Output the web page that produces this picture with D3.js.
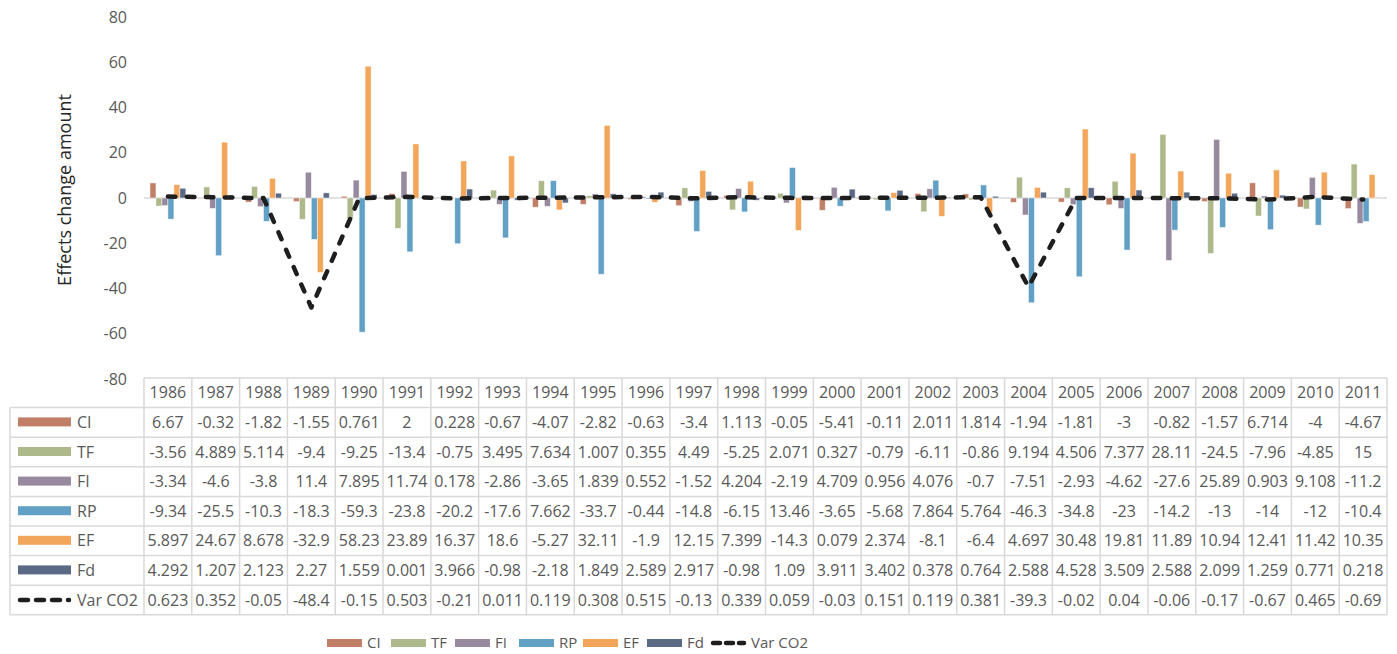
<!DOCTYPE html>
<meta charset="utf-8">
<head>
  <style>
    body { margin: 0; background: #fff; }
    svg { display: block; }
    .tick-lbl, .cell, .lbl { font-family: 'Open Sans', sans-serif; font-size: 16px; fill: #595959; }
    .ytitle { font-family: 'Open Sans', sans-serif; font-size: 18px; fill: #262626; }
    .grid { stroke: #d9d9d9; stroke-width: 1.5; fill: none; }
  </style>
</head>
<body>
<svg id="chart" width="1397" height="654"></svg>

<script src="https://d3js.org/d3.v7.min.js"></script>
<script>

  var years = [1986,1987,1988,1989,1990,1991,1992,1993,1994,1995,1996,1997,1998,1999,
               2000,2001,2002,2003,2004,2005,2006,2007,2008,2009,2010,2011];

  var CI = [6.67,-0.32,-1.82,-1.55,0.761,2,0.228,-0.67,-4.07,-2.82,-0.63,-3.4,1.113,-0.05,-5.41,-0.11,2.011,1.814,-1.94,-1.81,-3,-0.82,-1.57,6.714,-4,-4.67];
  var TF = [-3.56,4.889,5.114,-9.4,-9.25,-13.4,-0.75,3.495,7.634,1.007,0.355,4.49,-5.25,2.071,0.327,-0.79,-6.11,-0.86,9.194,4.506,7.377,28.11,-24.5,-7.96,-4.85,15];
  var FI = [-3.34,-4.6,-3.8,11.4,7.895,11.74,0.178,-2.86,-3.65,1.839,0.552,-1.52,4.204,-2.19,4.709,0.956,4.076,-0.7,-7.51,-2.93,-4.62,-27.6,25.89,0.903,9.108,-11.2];
  var RP = [-9.34,-25.5,-10.3,-18.3,-59.3,-23.8,-20.2,-17.6,7.662,-33.7,-0.44,-14.8,-6.15,13.46,-3.65,-5.68,7.864,5.764,-46.3,-34.8,-23,-14.2,-13,-14,-12,-10.4];
  var EF = [5.897,24.67,8.678,-32.9,58.23,23.89,16.37,18.6,-5.27,32.11,-1.9,12.15,7.399,-14.3,0.079,2.374,-8.1,-6.4,4.697,30.48,19.81,11.89,10.94,12.41,11.42,10.35];
  var Fd = [4.292,1.207,2.123,2.27,1.559,0.001,3.966,-0.98,-2.18,1.849,2.589,2.917,-0.98,1.09,3.911,3.402,0.378,0.764,2.588,4.528,3.509,2.588,2.099,1.259,0.771,0.218];
  var VarCO2 = [0.623,0.352,-0.05,-48.4,-0.15,0.503,-0.21,0.011,0.119,0.308,0.515,-0.13,0.339,0.059,-0.03,0.151,0.119,0.381,-39.3,-0.02,0.04,-0.06,-0.17,-0.67,0.465,-0.69];

  var barNames = ["CI","TF","FI","RP","EF","Fd"];
  var barData = [CI, TF, FI, RP, EF, Fd];
  var lineName = "Var CO2";
  var yTicks = [-80,-60,-40,-20,0,20,40,60,80];
  var yTitle = "Effects change amount";

  var colors = ["#c27f67","#adb88b","#978a9f","#62a0c6","#f2a65b","#5b6a84"];
  var lineColor = "#1e1e1e";

  var svg = d3.select("#chart");

  // layout
  var left = 144, right = 1387;
  var yTop = 17, yBot = 379;
  var tableTop = 378, rowH = 29.6, labelLeft = 10;

  var x = d3.scaleBand().domain(years).range([left, right])
            .paddingInner(0.25).paddingOuter(0.125);
  var xs = d3.scaleBand().domain(barNames).range([0, x.bandwidth()]);
  var y = d3.scaleLinear().domain([-80, 80]).range([yBot, yTop]);

  // y tick labels
  svg.append("g").selectAll("text").data(yTicks).join("text")
     .attr("class", "tick-lbl")
     .attr("x", 127).attr("y", d => y(d))
     .attr("dy", "0.35em")
     .attr("text-anchor", "end")
     .text(d => d);

  svg.append("text").attr("class", "ytitle")
     .attr("transform", "translate(71," + ((yTop + yBot) / 2 - 8) + ") rotate(-90)")
     .attr("text-anchor", "middle")
     .text(yTitle);

  // zero line
  svg.append("line").attr("class", "grid")
     .attr("x1", left).attr("x2", right)
     .attr("y1", y(0)).attr("y2", y(0));

  // bars
  var groups = svg.append("g").selectAll("g").data(years).join("g")
     .attr("transform", d => "translate(" + x(d) + ",0)");

  groups.selectAll("rect")
     .data((yr, i) => barNames.map((n, k) => ({name: n, k: k, v: barData[k][i]})))
     .join("rect")
     .attr("x", d => xs(d.name))
     .attr("width", xs.bandwidth())
     .attr("y", d => y(Math.max(0, d.v)))
     .attr("height", d => Math.abs(y(d.v) - y(0)))
     .attr("fill", d => colors[d.k])
     .attr("stroke", "rgba(255,255,255,0.6)")
     .attr("stroke-width", 0.75);

  // Var CO2 line
  var line = d3.line()
     .x((d, i) => x(years[i]) + x.bandwidth() / 2)
     .y(d => y(d));

  svg.append("path").datum(VarCO2)
     .attr("d", line)
     .attr("fill", "none")
     .attr("stroke", lineColor)
     .attr("stroke-width", 4.5)
     .attr("stroke-dasharray", "7.5,11.5")
     .attr("stroke-linecap", "round")
     .attr("stroke-linejoin", "round");

  // data table
  var colW = x.step();
  var tbl = svg.append("g");
  var rows = barNames.map((n, k) => ({name: n, vals: barData[k], k: k}));
  rows.push({name: lineName, vals: VarCO2, k: -1});
  var nRows = rows.length;

  // horizontal lines
  tbl.append("line").attr("class", "grid")
     .attr("x1", left).attr("x2", right).attr("y1", tableTop).attr("y2", tableTop);
  for (var r = 1; r <= nRows + 1; r++) {
    tbl.append("line").attr("class", "grid")
       .attr("x1", labelLeft).attr("x2", right)
       .attr("y1", tableTop + r * rowH).attr("y2", tableTop + r * rowH);
  }
  // vertical lines
  tbl.append("line").attr("class", "grid")
     .attr("x1", labelLeft).attr("x2", labelLeft)
     .attr("y1", tableTop + rowH).attr("y2", tableTop + (nRows + 1) * rowH);
  for (var c = 0; c <= years.length; c++) {
    tbl.append("line").attr("class", "grid")
       .attr("x1", left + c * colW).attr("x2", left + c * colW)
       .attr("y1", tableTop).attr("y2", tableTop + (nRows + 1) * rowH);
  }

  // header
  tbl.selectAll(".hdr").data(years).join("text")
     .attr("class", "cell hdr")
     .attr("x", d => x(d) + x.bandwidth() / 2)
     .attr("y", tableTop + rowH / 2).attr("dy", "0.35em")
     .attr("text-anchor", "middle")
     .text(d => d);

  rows.forEach(function (row, r) {
    var cy = tableTop + (r + 1.5) * rowH;
    var rg = tbl.append("g");
    if (row.k >= 0) {
      rg.append("rect").attr("x", 18).attr("y", cy - 5).attr("width", 53).attr("height", 9)
        .attr("fill", colors[row.k]);
    } else {
      rg.append("line").attr("x1", 20).attr("x2", 69).attr("y1", cy).attr("y2", cy)
        .attr("stroke", lineColor).attr("stroke-width", 4.5)
        .attr("stroke-dasharray", "8,8").attr("stroke-linecap", "round");
    }
    rg.append("text").attr("class", "lbl")
      .attr("x", 77).attr("y", cy).attr("dy", "0.35em")
      .text(row.name);
    rg.selectAll(".v").data(row.vals).join("text")
      .attr("class", "cell v")
      .attr("x", (d, i) => x(years[i]) + x.bandwidth() / 2)
      .attr("y", cy).attr("dy", "0.35em")
      .attr("text-anchor", "middle")
      .text(d => String(d));
  });

  // bottom legend (equal-width entries, like Excel)
  var legY = 643, legX0 = 327, legPitch = 64;
  var leg = svg.append("g");
  rows.forEach(function (row, i) {
    var lx = legX0 + i * legPitch;
    if (row.k >= 0) {
      leg.append("rect").attr("x", lx).attr("y", legY - 4).attr("width", 35).attr("height", 8)
         .attr("fill", colors[row.k]);
    } else {
      leg.append("line").attr("x1", lx + 2).attr("x2", lx + 33).attr("y1", legY).attr("y2", legY)
         .attr("stroke", lineColor).attr("stroke-width", 4.5)
         .attr("stroke-dasharray", "7,6").attr("stroke-linecap", "round");
    }
    leg.append("text").attr("class", "lbl")
       .attr("x", lx + 40).attr("y", legY).attr("dy", "0.35em")
       .style("font-size", "15px")
       .text(row.name);
  });

</script>
</body>
